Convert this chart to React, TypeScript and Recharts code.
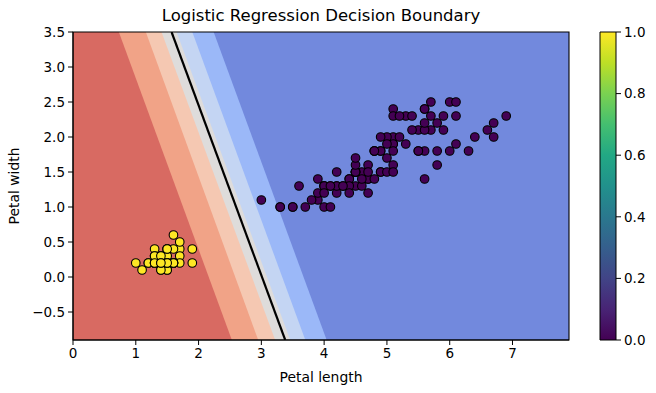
import React from "react";
import {
  ComposedChart,
  BarChart,
  Bar,
  Area,
  Line,
  Scatter,
  XAxis,
  YAxis,
  ReferenceArea,
} from "recharts";

// contour band edges: x where each edge meets the top (y=3.5) and bottom (y=-0.9) of the plot
const edgeY = [3.5, -0.9];
const redEdge = [0.73, 2.53];
const salmonEdge = [1.16, 2.95];
const peachEdge = [1.41, 3.22];
const grayEdge = [1.65, 3.46];
const lightBlueEdge = [1.9, 3.7];
const blueEdge = [2.24, 4.04];
const darkBlueEdge = [7.9, 7.9];
const boundaryLine = [1.57, 3.38];

// iris petal measurements
const setosaLength = [1.4, 1.4, 1.3, 1.5, 1.4, 1.7, 1.4, 1.5, 1.4, 1.5, 1.5, 1.6, 1.4, 1.1, 1.2, 1.5, 1.3, 1.4, 1.7, 1.5, 1.7, 1.5, 1.0, 1.7, 1.9, 1.6, 1.6, 1.5, 1.4, 1.6, 1.6, 1.5, 1.5, 1.4, 1.5, 1.2, 1.3, 1.4, 1.3, 1.5, 1.3, 1.3, 1.3, 1.6, 1.9, 1.4, 1.6, 1.4, 1.5, 1.4];
const setosaWidth = [0.2, 0.2, 0.2, 0.2, 0.2, 0.4, 0.3, 0.2, 0.2, 0.1, 0.2, 0.2, 0.1, 0.1, 0.2, 0.4, 0.4, 0.3, 0.3, 0.3, 0.2, 0.4, 0.2, 0.5, 0.2, 0.2, 0.4, 0.2, 0.2, 0.2, 0.2, 0.4, 0.1, 0.2, 0.2, 0.2, 0.2, 0.1, 0.2, 0.2, 0.3, 0.3, 0.2, 0.6, 0.4, 0.3, 0.2, 0.2, 0.2, 0.2];
const otherLength = [
  4.7, 4.5, 4.9, 4.0, 4.6, 4.5, 4.7, 3.3, 4.6, 3.9, 3.5, 4.2, 4.0, 4.7, 3.6, 4.4, 4.5, 4.1, 4.5, 3.9, 4.8, 4.0, 4.9, 4.7, 4.3, 4.4, 4.8, 5.0, 4.5, 3.5, 3.8, 3.7, 3.9, 5.1, 4.5, 4.5, 4.7, 4.4, 4.1, 4.0, 4.4, 4.6, 4.0, 3.3, 4.2, 4.2, 4.2, 4.3, 3.0, 4.1,
  6.0, 5.1, 5.9, 5.6, 5.8, 6.6, 4.5, 6.3, 5.8, 6.1, 5.1, 5.3, 5.5, 5.0, 5.1, 5.3, 5.5, 6.7, 6.9, 5.0, 5.7, 4.9, 6.7, 4.9, 5.7, 6.0, 4.8, 4.9, 5.6, 5.8, 6.1, 6.4, 5.6, 5.1, 5.6, 6.1, 5.6, 5.5, 4.8, 5.4, 5.6, 5.1, 5.1, 5.9, 5.7, 5.2, 5.0, 5.2, 5.4, 5.1,
];
const otherWidth = [
  1.4, 1.5, 1.5, 1.3, 1.5, 1.3, 1.6, 1.0, 1.3, 1.4, 1.0, 1.5, 1.0, 1.4, 1.3, 1.4, 1.5, 1.0, 1.5, 1.1, 1.8, 1.3, 1.5, 1.2, 1.3, 1.4, 1.4, 1.7, 1.5, 1.0, 1.1, 1.0, 1.2, 1.6, 1.5, 1.6, 1.5, 1.3, 1.3, 1.3, 1.2, 1.4, 1.2, 1.0, 1.3, 1.2, 1.3, 1.3, 1.1, 1.3,
  2.5, 1.9, 2.1, 1.8, 2.2, 2.1, 1.7, 1.8, 1.8, 2.5, 2.0, 1.9, 2.1, 2.0, 2.4, 2.3, 1.8, 2.2, 2.3, 1.5, 2.3, 2.0, 2.0, 1.8, 2.1, 1.8, 1.8, 1.8, 2.1, 1.6, 1.9, 2.0, 2.2, 1.5, 1.4, 2.3, 2.4, 1.8, 1.8, 2.1, 2.4, 2.3, 1.9, 2.3, 2.5, 2.3, 1.9, 2.0, 2.3, 1.8,
];

const xTicks = [0, 1, 2, 3, 4, 5, 6, 7];
const yTicks = [-0.5, 0, 0.5, 1, 1.5, 2, 2.5, 3, 3.5];
const cbTicks = [0, 0.2, 0.4, 0.6, 0.8, 1];

// widest first so narrower bands paint over them
const bands = [
  { key: "darkBlue", edge: darkBlueEdge, color: "#7289dd" },
  { key: "blue", edge: blueEdge, color: "#9bb8f8" },
  { key: "lightBlue", edge: lightBlueEdge, color: "#c4d5f3" },
  { key: "gray", edge: grayEdge, color: "#dedcdb" },
  { key: "peach", edge: peachEdge, color: "#f5c8b2" },
  { key: "salmon", edge: salmonEdge, color: "#f1a387" },
  { key: "red", edge: redEdge, color: "#d86a62" },
];

const bandRows = edgeY.map((y, i) => {
  const row: Record<string, number> = { y, boundary: boundaryLine[i] };
  bands.forEach((b) => (row[b.key] = b.edge[i]));
  return row;
});

const setosa = setosaLength.map((x, i) => ({ x, y: setosaWidth[i] }));
const others = otherLength.map((x, i) => ({ x, y: otherWidth[i] }));

const viridis = ["#440154", "#482475", "#414487", "#355f8d", "#2a788e", "#21918c", "#22a884", "#44bf70", "#7ad151", "#bddf26", "#fde725"];

const FONT = "'DejaVu Sans', sans-serif";
const tickStyle = { fill: "#000", fontSize: 13.5, fontFamily: FONT };

const dot = (fill: string) => (props: any) => (
  <circle cx={props.cx} cy={props.cy} r={4.3} fill={fill} stroke="#000" strokeWidth={1.1} />
);

export default function App() {
  return (
    <div style={{ position: "absolute", left: 0, top: 0, width: 656, height: 393, background: "#fff", fontFamily: FONT }}>
      <div style={{ position: "absolute", left: 73, width: 496, top: 6, textAlign: "center", fontSize: 16.5, color: "#000" }}>
        Logistic Regression Decision Boundary
      </div>

      <div style={{ position: "absolute", left: 0, top: 0 }}>
        <ComposedChart width={656} height={393} layout="vertical" data={bandRows} margin={{ top: 32, right: 87, bottom: 0, left: 0 }}>
          <XAxis
            type="number"
            dataKey="x"
            domain={[0, 7.9]}
            ticks={xTicks}
            allowDataOverflow
            height={53}
            stroke="#000"
            tickSize={5}
            tickMargin={3}
            tick={tickStyle}
            label={{ value: "Petal length", position: "insideBottom", offset: 11, fill: "#000", fontSize: 13.9, fontFamily: FONT }}
          />
          <YAxis
            type="number"
            dataKey="y"
            domain={[-0.9, 3.5]}
            ticks={yTicks}
            reversed
            allowDataOverflow
            width={73}
            stroke="#000"
            tickSize={5}
            tickMargin={3}
            tick={tickStyle}
            tickFormatter={(v: number) => v.toFixed(1).replace("-", "\u2212")}
            label={{ value: "Petal width", angle: -90, position: "insideLeft", offset: 14, fill: "#000", fontSize: 13.9, fontFamily: FONT, style: { textAnchor: "middle" } }}
          />
          {bands.map((b) => (
            <Area
              key={b.key}
              type="linear"
              dataKey={b.key}
              fill={b.color}
              fillOpacity={1}
              stroke="none"
              isAnimationActive={false}
            />
          ))}
          <Line type="linear" dataKey="boundary" stroke="#000" strokeWidth={2.2} dot={false} isAnimationActive={false} />
          <Scatter data={others} shape={dot("#440154")} isAnimationActive={false} />
          <Scatter data={setosa} shape={dot("#fde725")} isAnimationActive={false} />
          <ReferenceArea x1={0} x2={7.9} y1={-0.9} y2={3.5} fill="none" stroke="#000" strokeWidth={1.1} />
        </ComposedChart>
      </div>

      <div style={{ position: "absolute", left: 590, top: 0 }}>
        <BarChart width={66} height={393} data={[{ c: "cb", v: 1 }]} barCategoryGap={0} margin={{ top: 32, right: 0, bottom: 53, left: 10 }}>
          <defs>
            <linearGradient id="viridisGrad" x1="0" y1="1" x2="0" y2="0">
              {viridis.map((c, i) => (
                <stop key={c} offset={`${(i / (viridis.length - 1)) * 100}%`} stopColor={c} />
              ))}
            </linearGradient>
          </defs>
          <XAxis dataKey="c" hide />
          <YAxis
            orientation="right"
            domain={[0, 1]}
            ticks={cbTicks}
            width={40}
            axisLine={false}
            stroke="#000"
            tickSize={5}
            tickMargin={3}
            tick={tickStyle}
            tickFormatter={(v: number) => v.toFixed(1)}
          />
          <Bar dataKey="v" fill="url(#viridisGrad)" stroke="#000" strokeWidth={1} isAnimationActive={false} />
        </BarChart>
      </div>
    </div>
  );
}
